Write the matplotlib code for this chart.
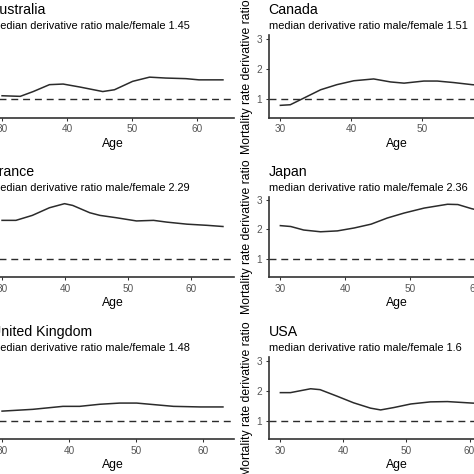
import matplotlib
matplotlib.use('Agg')
import matplotlib.pyplot as plt

plt.rcParams['font.family'] = ['Liberation Sans', 'DejaVu Sans']

countries = ['Australia', 'Canada', 'France', 'Japan', 'United Kingdom', 'USA']
medians = ['1.45', '1.51', '2.29', '2.36', '1.48', '1.6']

aus_age = [30, 32.8, 34.8, 37.3, 39.4, 42, 45.5, 47.3, 50.1, 52.7, 55.2, 58.3, 60.3, 64]
aus_ratio = [1.10, 1.08, 1.24, 1.47, 1.49, 1.39, 1.24, 1.30, 1.58, 1.72, 1.69, 1.67, 1.63, 1.63]

can_age = [30, 31.4, 33.3, 35.7, 38.0, 40.4, 43.2, 45.6, 47.5, 50.3, 52.2, 54.5, 57.1, 60, 63]
can_ratio = [0.78, 0.80, 1.02, 1.30, 1.47, 1.60, 1.66, 1.56, 1.52, 1.59, 1.59, 1.54, 1.47, 1.42, 1.40]

fra_age = [30, 32.2, 34.8, 37.5, 39.9, 41.2, 43.9, 45.5, 48.1, 51.3, 54, 56.1, 59.3, 62.5, 65]
fra_ratio = [2.31, 2.31, 2.48, 2.74, 2.88, 2.82, 2.57, 2.48, 2.40, 2.29, 2.31, 2.25, 2.18, 2.14, 2.10]

jpn_age = [30, 31.6, 33.6, 36.2, 38.8, 41.4, 44, 46.5, 49.1, 52.2, 55.8, 57.4, 59.5, 62.5, 66]
jpn_ratio = [2.13, 2.10, 1.98, 1.92, 1.95, 2.05, 2.18, 2.39, 2.56, 2.73, 2.86, 2.85, 2.71, 2.55, 2.42]

gbr_age = [30, 34.6, 39.1, 41.6, 44.6, 47.6, 50.1, 52.6, 55.6, 59.6, 63]
gbr_ratio = [1.32, 1.38, 1.48, 1.48, 1.55, 1.59, 1.59, 1.54, 1.48, 1.46, 1.46]

usa_age = [30, 31.6, 34.8, 36.3, 39, 41.6, 44.3, 45.9, 48, 50.7, 53.8, 56.5, 60.4, 63.5, 67]
usa_ratio = [1.94, 1.94, 2.07, 2.04, 1.82, 1.60, 1.42, 1.36, 1.44, 1.56, 1.63, 1.64, 1.59, 1.56, 1.54]

ages = [aus_age, can_age, fra_age, jpn_age, gbr_age, usa_age]
ratios = [aus_ratio, can_ratio, fra_ratio, jpn_ratio, gbr_ratio, usa_ratio]

W = H = 474
fig = plt.figure(figsize=(4.74, 4.74), dpi=100)

# panel boxes in pixels: left, bottom (from top), width, height
col_x = [(-9, 243), (268.7, 256.6)]
row_y = [(117.5, 82.5), (277, 80.5), (439.3, 82)]

for i, name in enumerate(countries):
    r, c = divmod(i, 2)
    x0, w = col_x[c]
    yb, h = row_y[r]
    ax = fig.add_axes([x0 / W, 1 - yb / H, w / W, h / H])
    a = ages[i]
    ax.plot(a, ratios[i], color='#2b2b2b', lw=1.1, solid_joinstyle='round')
    ax.axhline(1, color='#2b2b2b', lw=1.0, linestyle=(0, (5, 3.5)))
    rng = a[-1] - a[0]
    ax.set_xlim(a[0] - 0.05 * rng, a[-1] + 0.05 * rng)
    ax.set_ylim(0.375, 3.125)
    ax.set_xticks([30, 40, 50, 60])
    ax.set_yticks([1, 2, 3])
    for s in ['top', 'right']:
        ax.spines[s].set_visible(False)
    for s in ['left', 'bottom']:
        ax.spines[s].set_linewidth(1.2)
        ax.spines[s].set_color('#333333')
    ax.tick_params(length=2.2, width=0.75, color='#333333', labelcolor='#555555',
                   labelsize=7.2, pad=2.6)
    ax.set_xlabel('Age', fontsize=8.8, labelpad=2.5)
    ax.set_ylabel('Mortality rate derivative ratio', fontsize=8.8)
    ax.yaxis.set_label_coords(-15.7 / w, 0.5)
    ax.annotate(name, (0, 1), xycoords='axes fraction', xytext=(0, 15.1),
                textcoords='offset points', fontsize=10.2, va='baseline', ha='left')
    ax.annotate('median derivative ratio male/female ' + medians[i], (0, 1),
                xycoords='axes fraction', xytext=(0, 4.3), textcoords='offset points',
                fontsize=7.9, va='baseline', ha='left')

fig.savefig('out.png', dpi=100)
